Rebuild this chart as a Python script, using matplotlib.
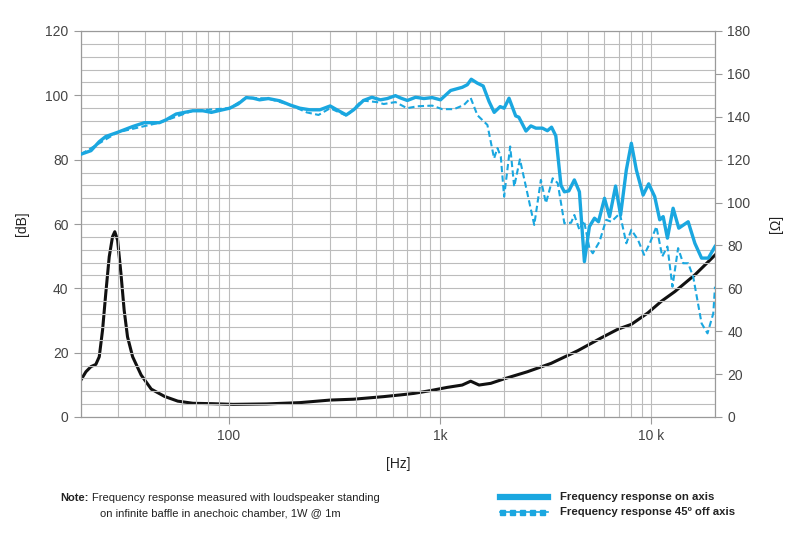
import matplotlib

matplotlib.use("Agg")
import matplotlib.pyplot as plt
from matplotlib.lines import Line2D
from matplotlib.ticker import FixedLocator, LogLocator, MultipleLocator, NullFormatter

plt.rcParams["font.family"] = ["Liberation Sans", "DejaVu Sans"]

# frequency response on axis (Hz, dB)
on_freq = [20, 22.3, 24.4, 26.2, 29.8, 35.1, 39.9, 47.0, 50.6, 56.4,
           67.6, 75.5, 82.8, 90.6, 101, 110.7, 121, 130.5, 140, 154,
           174.5, 195, 217, 242, 270, 302, 325, 360, 390, 434,
           476, 522, 563, 615, 649, 700, 766, 838, 918, 1005,
           1122, 1274, 1346, 1405, 1500, 1600, 1705, 1804, 1925, 2010,
           2120, 2280, 2360, 2550, 2690, 2840, 3050, 3220, 3370, 3530,
           3735, 3875, 4070, 4320, 4565, 4820, 5090, 5380, 5620, 6000,
           6340, 6770, 7150, 7610, 8040, 8490, 9140, 9710, 10370, 10950,
           11370, 11910, 12670, 13480, 14930, 16060, 17280, 18600, 20000]
on_db = [81.7, 82.8, 85.6, 87.2, 88.5, 90.3, 91.5, 91.5, 92.4, 94.2,
         95.2, 95.2, 94.7, 95.3, 96.0, 97.3, 99.3, 99.1, 98.6, 99.0,
         98.3, 97.0, 96.0, 95.5, 95.5, 96.7, 95.5, 93.9, 95.5, 98.4,
         99.4, 98.6, 99.0, 99.9, 99.2, 98.4, 99.4, 99.0, 99.3, 98.6,
         101.5, 102.5, 103.3, 105.0, 103.8, 102.9, 98.1, 94.7, 96.5, 96.0,
         99.1, 93.6, 93.2, 88.9, 90.5, 89.8, 89.8, 89.0, 90.1, 87.4,
         72.0, 70.0, 70.3, 73.7, 70.0, 48.3, 59.2, 61.8, 60.7, 68.0,
         62.3, 71.8, 62.8, 76.8, 85.1, 76.8, 69.0, 72.5, 68.5, 61.3,
         62.3, 55.6, 64.9, 58.7, 60.7, 54.0, 49.4, 49.4, 53.0]

# frequency response 45 deg off axis (Hz, dB)
off_freq = [20, 29.8, 47.0, 67.6, 101, 121, 154, 195, 234, 266,
            302, 362, 427, 503, 541, 615, 698, 780, 918, 1024,
            1164, 1297, 1396, 1503, 1675, 1802, 1869, 1938, 2010, 2147,
            2243, 2387, 2549, 2791, 3000, 3170, 3411, 3604, 3875, 4169,
            4320, 4565, 4800, 5090, 5280, 5680, 6110, 6460, 7090, 7610,
            8040, 8650, 9240, 9830, 10560, 11260, 11910, 12580, 13380, 14140,
            14930, 15770, 17280, 18430, 19630, 20000]
off_db = [81.7, 88.5, 91.5, 95.2, 96.0, 99.3, 99.0, 97.0, 94.7, 93.9,
          96.0, 93.6, 98.4, 97.9, 97.3, 97.9, 96.0, 96.6, 96.8, 95.7,
          95.7, 97.0, 99.2, 93.8, 90.8, 80.4, 83.6, 81.0, 68.5, 84.1,
          71.6, 80.1, 71.6, 59.7, 73.7, 66.5, 74.2, 72.7, 60.2, 60.4,
          62.8, 58.2, 61.0, 52.5, 50.9, 54.5, 61.3, 60.7, 63.3, 54.0,
          58.2, 55.0, 50.4, 54.0, 59.2, 49.9, 53.0, 40.5, 52.5, 47.8,
          47.8, 43.6, 29.1, 26.0, 32.2, 40.5]

# impedance (Hz, ohm)
imp_freq = [20, 21.1, 22.3, 23.5, 24.4, 25.3, 26.2, 27.2, 28.2, 28.9,
            29.8, 30.9, 32.0, 33.2, 35.1, 38.5, 43.0, 49.7, 57.4, 67.7,
            84.2, 104.8, 151, 217, 302, 390, 541, 649, 751, 900,
            1080, 1273, 1396, 1530, 1738, 2010, 2590, 3350, 4480, 5790,
            6960, 8040, 9640, 11160, 12920, 16150, 20000]
imp_ohm = [17.3, 21.1, 23.5, 24.5, 28.1, 40.6, 57.7, 74.7, 84.1, 86.4,
           82.5, 67.0, 49.9, 37.4, 28.1, 19.6, 13.0, 9.6, 7.4, 6.4,
           6.2, 5.9, 6.1, 6.7, 7.9, 8.3, 9.5, 10.3, 11.0, 12.3,
           13.8, 14.9, 16.7, 14.9, 15.7, 17.8, 21.1, 25.0, 30.9, 36.9,
           41.0, 43.2, 48.6, 54.0, 58.5, 66.5, 75.5]

x_ticks = [100, 1000, 10000]
x_tick_labels = ["100", "1k", "10 k"]

BLUE = "#1aa7e0"
GRID = "#bcbcbc"
TICK_TEXT = "#444444"

fig = plt.figure(figsize=(8.0, 5.51), dpi=100)
ax = fig.add_axes([81 / 800, 1 - 417 / 551, (715 - 81) / 800, (417 - 31) / 551])
ax2 = ax.twinx()

ax.set_xscale("log")
ax.set_xlim(20, 20000)
ax.set_ylim(0, 120)
ax.xaxis.set_major_locator(FixedLocator(x_ticks))
ax.xaxis.set_minor_locator(LogLocator(base=10, subs=range(2, 10), numticks=20))
ax.xaxis.set_minor_formatter(NullFormatter())
ax.set_xticklabels(x_tick_labels)
ax.yaxis.set_major_locator(MultipleLocator(20))
ax.yaxis.set_minor_locator(MultipleLocator(4))

ax.grid(True, which="both", color=GRID, linewidth=0.8)
ax.set_axisbelow(True)
for side in ["left", "right", "bottom", "top"]:
    ax.spines[side].set_color("#9a9a9a")
    ax2.spines[side].set_color("#9a9a9a")
ax.tick_params(which="major", length=5, color="#9a9a9a", labelcolor=TICK_TEXT,
               labelsize=10, pad=4)
ax.tick_params(which="minor", length=0)

ax.plot(off_freq, off_db, color=BLUE, linewidth=1.5, linestyle=(0, (3, 1.6)), zorder=3)
ax.plot(on_freq, on_db, color=BLUE, linewidth=2.4, solid_joinstyle="round", zorder=4)

ax2.set_ylim(0, 180)
ax2.yaxis.set_major_locator(MultipleLocator(20))
ax2.tick_params(length=5, color="#9a9a9a", labelcolor=TICK_TEXT, labelsize=10, pad=4)
ax2.plot(imp_freq, imp_ohm, color="#111111", linewidth=2.2, solid_joinstyle="round", zorder=5)
ax.set_zorder(ax2.get_zorder() + 1)
ax.patch.set_visible(False)

ax.set_xlabel("[Hz]", fontsize=10, color="#222222", labelpad=10)
ax.set_ylabel("[dB]", fontsize=10, color="#222222", labelpad=12)
ax2.set_ylabel("[\u03a9]", fontsize=10, color="#222222", labelpad=13, rotation=90)

note_font = ["Liberation Sans Narrow", "Liberation Sans", "DejaVu Sans"]
fig.text(60 / 800, 1 - 498 / 551, "Note:", fontsize=8, fontweight="bold",
         family=note_font, va="center", color="#222222")
fig.text(92 / 800, 1 - 498 / 551, "Frequency response measured with loudspeaker standing",
         fontsize=8, family=note_font, va="center", color="#222222")
fig.text(100 / 800, 1 - 513 / 551, "on infinite baffle in anechoic chamber, 1W @ 1m",
         fontsize=8, family=note_font, va="center", color="#222222")

fig.add_artist(Line2D([500 / 800, 548 / 800], [1 - 497 / 551] * 2, color=BLUE, linewidth=4.5))
fig.add_artist(Line2D([500 / 800, 548 / 800], [1 - 512 / 551] * 2, color=BLUE, linewidth=1.2))
fig.add_artist(Line2D([502 / 800, 512 / 800, 522 / 800, 532 / 800, 542 / 800],
                      [1 - 512 / 551] * 5, color=BLUE, linestyle="none",
                      marker="s", markersize=3.6))
fig.text(560 / 800, 1 - 497 / 551, "Frequency response on axis", fontsize=8.2,
         fontweight="bold", family=note_font, va="center", color="#222222")
fig.text(560 / 800, 1 - 512 / 551, "Frequency response 45\u00ba off axis", fontsize=8.2,
         fontweight="bold", family=note_font, va="center", color="#222222")

fig.savefig("out.png", dpi=100)
